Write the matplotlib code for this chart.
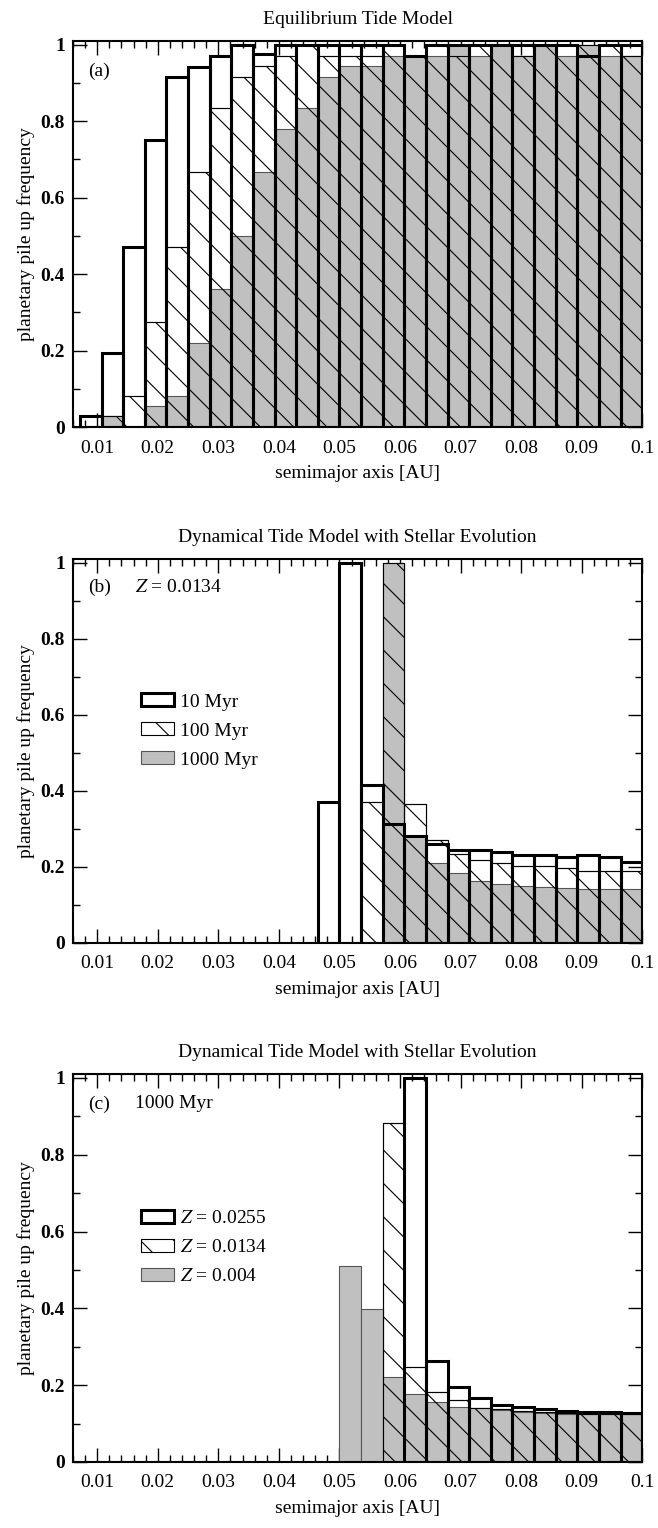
import numpy as np
import matplotlib
matplotlib.use("Agg")
import matplotlib.pyplot as plt
from matplotlib.patches import Patch
from matplotlib.ticker import MultipleLocator, FixedLocator, FixedFormatter

plt.rcParams['font.family'] = ['Liberation Serif', 'DejaVu Serif']
plt.rcParams['mathtext.fontset'] = 'stix'
plt.rcParams['hatch.linewidth'] = 0.8

# histogram bins: 26 bins of 0.1/28 AU ending at 0.1 AU
EDGES = np.linspace(0.1 / 28 * 2, 0.1, 27)
LEFT = EDGES[:-1]
WIDTH = EDGES[1] - EDGES[0]

# (a) equilibrium tide
eq_10myr = [0.028, 0.195, 0.471, 0.751, 0.917, 0.943, 0.971, 1.0, 0.975, 1.0, 1.0, 1.0, 1.0,
            1.0, 1.0, 0.97, 1.0, 1.0, 1.0, 1.0, 1.0, 1.0, 1.0, 0.97, 1.0, 1.0]
eq_100myr = [0.0, 0.028, 0.082, 0.276, 0.471, 0.667, 0.834, 0.917, 0.945, 0.97, 1.0, 0.97, 0.97,
             0.97, 1.0, 0.97, 1.0, 0.97, 1.0, 1.0, 0.97, 1.0, 1.0, 1.0, 1.0, 0.97]
eq_1000myr = [0.0, 0.028, 0.0, 0.054, 0.082, 0.221, 0.36, 0.499, 0.667, 0.78, 0.834, 0.917, 0.945,
              0.945, 0.97, 0.97, 0.97, 1.0, 0.97, 1.0, 0.97, 1.0, 0.97, 1.0, 0.97, 0.97]

# (b) dynamical tide, Z = 0.0134
dyn_10myr = [0, 0, 0, 0, 0, 0, 0, 0, 0, 0, 0, 0.370, 1.0, 0.416, 0.313, 0.282, 0.26, 0.245,
             0.245, 0.238, 0.231, 0.231, 0.225, 0.232, 0.226, 0.214]
dyn_100myr = [0, 0, 0, 0, 0, 0, 0, 0, 0, 0, 0, 0, 0, 0.370, 1.0, 0.366, 0.271, 0.235,
              0.218, 0.21, 0.203, 0.203, 0.196, 0.188, 0.188, 0.188]
dyn_1000myr = [0, 0, 0, 0, 0, 0, 0, 0, 0, 0, 0, 0, 0, 0, 1.0, 0.282, 0.21, 0.183,
               0.164, 0.155, 0.151, 0.148, 0.144, 0.141, 0.141, 0.141]

# (c) dynamical tide, 1000 Myr, metallicities
z0255 = [0, 0, 0, 0, 0, 0, 0, 0, 0, 0, 0, 0, 0, 0, 0, 1.0, 0.264, 0.194,
         0.166, 0.148, 0.144, 0.138, 0.134, 0.130, 0.129, 0.127]
z0134 = [0, 0, 0, 0, 0, 0, 0, 0, 0, 0, 0, 0, 0, 0, 0.882, 0.248, 0.183, 0.161,
         0.141, 0.137, 0.134, 0.130, 0.128, 0.126, 0.125, 0.125]
z004 = [0, 0, 0, 0, 0, 0, 0, 0, 0, 0, 0, 0, 0.509, 0.398, 0.221, 0.176, 0.157, 0.144,
        0.141, 0.135, 0.131, 0.127, 0.125, 0.124, 0.124, 0.124]

xticks = [0.01, 0.02, 0.03, 0.04, 0.05, 0.06, 0.07, 0.08, 0.09, 0.1]
xticklabels = ['0.01', '0.02', '0.03', '0.04', '0.05', '0.06', '0.07', '0.08', '0.09', '0.1']
yticks = [0, 0.2, 0.4, 0.6, 0.8, 1.0]
yticklabels = ['0', '0.2', '0.4', '0.6', '0.8', '1']

GRAY = '#c0c0c0'
THICK = 2.2
THIN = 0.8
FS = 14


def bars(ax, vals, **kw):
    vals = np.asarray(vals, dtype=float)
    m = vals > 0
    ax.bar(LEFT[m], vals[m], WIDTH, align='edge', **kw)


def panel(ax, thick, hatched, gray):
    # fills first, outlines on top
    bars(ax, thick, color='white', linewidth=0, zorder=1)
    bars(ax, hatched, facecolor='white', edgecolor='#444444', linewidth=THIN, zorder=2)
    bars(ax, gray, facecolor=GRAY, edgecolor='#555555', linewidth=THIN, zorder=3)
    bars(ax, hatched, fill=False, hatch='\\', edgecolor='black', linewidth=THIN, zorder=4)
    bars(ax, thick, fill=False, edgecolor='black', linewidth=THICK, zorder=5)

    ax.set_xlim(0.006, 0.1)
    ax.set_ylim(0, 1.01)
    ax.xaxis.set_major_locator(FixedLocator(xticks))
    ax.xaxis.set_major_formatter(FixedFormatter(xticklabels))
    ax.xaxis.set_minor_locator(MultipleLocator(0.002))
    ax.yaxis.set_major_locator(FixedLocator(yticks))
    ax.yaxis.set_major_formatter(FixedFormatter(yticklabels))
    ax.yaxis.set_minor_locator(MultipleLocator(0.1))
    ax.tick_params(which='both', direction='in', top=True, right=True, width=1.0,
                   labelsize=FS)
    ax.tick_params(which='major', length=10)
    ax.tick_params(axis='x', which='major', pad=9)
    ax.tick_params(axis='y', which='major', pad=6)
    ax.tick_params(which='minor', length=5)
    for lab in ax.get_yticklabels():
        lab.set_fontweight('bold')
    for s in ax.spines.values():
        s.set_linewidth(1.5)
        s.set_zorder(6)
    ax.set_xlabel('semimajor axis [AU]', fontsize=FS, labelpad=6)
    ax.set_ylabel('planetary pile up frequency', fontsize=FS, labelpad=4)


def legend(ax, labels):
    handles = [
        Patch(facecolor='white', edgecolor='black', linewidth=THICK),
        Patch(facecolor='white', edgecolor='black', hatch='\\', linewidth=THIN),
        Patch(facecolor=GRAY, edgecolor='#555555', linewidth=THIN),
    ]
    ax.legend(handles, labels, loc='upper left', bbox_to_anchor=(0.105, 0.67),
              frameon=False, fontsize=FS, handlelength=1.7, handleheight=0.65,
              labelspacing=0.6, handletextpad=0.35, borderaxespad=0)


fig = plt.figure(figsize=(6.58, 15.28), dpi=100)
ax_a = fig.add_axes([0.111, 0.7205, 0.865, 0.2527])
ax_b = fig.add_axes([0.111, 0.3829, 0.865, 0.2513])
ax_c = fig.add_axes([0.111, 0.0432, 0.865, 0.2539])

panel(ax_a, eq_10myr, eq_100myr, eq_1000myr)
ax_a.set_title('Equilibrium Tide Model', fontsize=FS, pad=12)
ax_a.text(0.027, 0.92, '(a)', transform=ax_a.transAxes, fontsize=FS, va='center')

panel(ax_b, dyn_10myr, dyn_100myr, dyn_1000myr)
ax_b.set_title('Dynamical Tide Model with Stellar Evolution', fontsize=FS, pad=12)
ax_b.text(0.027, 0.925, '(b)', transform=ax_b.transAxes, fontsize=FS, va='center')
ax_b.text(0.108, 0.925, r'$Z$ = 0.0134', transform=ax_b.transAxes, fontsize=FS, va='center')
legend(ax_b, ['10 Myr', '100 Myr', '1000 Myr'])

panel(ax_c, z0255, z0134, z004)
ax_c.set_title('Dynamical Tide Model with Stellar Evolution', fontsize=FS, pad=12)
ax_c.text(0.027, 0.923, '(c)', transform=ax_c.transAxes, fontsize=FS, va='center')
ax_c.text(0.108, 0.923, '1000 Myr', transform=ax_c.transAxes, fontsize=FS, va='center')
legend(ax_c, [r'$Z$ = 0.0255', r'$Z$ = 0.0134', r'$Z$ = 0.004'])

fig.savefig('out.png', dpi=100)
